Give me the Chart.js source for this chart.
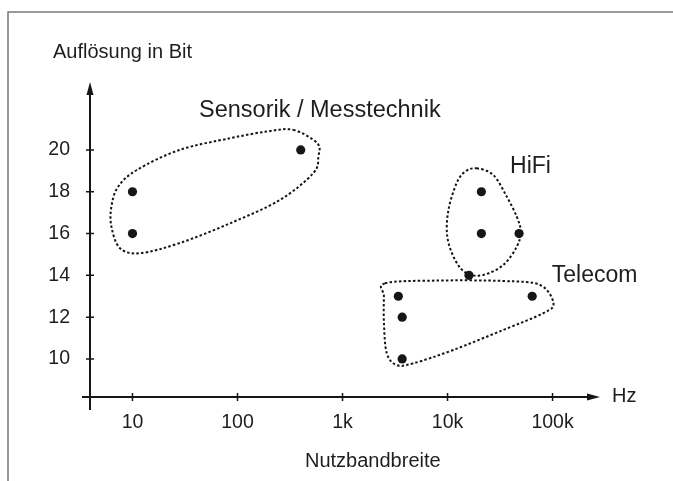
<!DOCTYPE html>
<html>
<head>
<meta charset="utf-8">
<script src="https://cdn.jsdelivr.net/npm/chart.js@4.4.0/dist/chart.umd.min.js"></script>
<style>
    html, body { margin: 0; padding: 0; background: #ffffff; }
    #wrap { width: 673px; height: 481px; }
</style>
</head>
<body>
<div id="wrap"><canvas id="bitChart" width="673" height="481"></canvas></div>
<script>
// Measured points (bandwidth in Hz, resolution in bit)
const sensorikHz = [10, 10, 400];
const sensorikBits = [18, 16, 20];
const hifiHz = [21000, 21000, 48000, 16000];
const hifiBits = [18, 16, 16, 14];
const telecomHz = [3400, 3700, 3700, 64000];
const telecomBits = [13, 12, 10, 13];

// Dotted group outlines (closed curves through these points)
const sensorikOutlineHz = [340, 575, 589, 527, 254, 85, 28, 11.8, 7.6, 6.3, 6.3, 7.3, 11, 28, 85, 190];
const sensorikOutlineBits = [20.96, 20.32, 19.68, 18.89, 17.61, 16.49, 15.54, 15.06, 15.3, 16.33, 17.29, 18.24, 19.04, 20.0, 20.56, 20.88];
const hifiOutlineHz = [18970, 27300, 36600, 45600, 49800, 45600, 34000, 21900, 15200, 11800, 9950, 10200, 12200, 14700];
const hifiOutlineBits = [19.12, 18.8, 17.77, 16.81, 16.09, 15.37, 14.5, 14.02, 14.1, 14.74, 15.85, 17.13, 18.41, 18.96];
const telecomOutlineHz = [2540, 7890, 34000, 76000, 102000, 81700, 34000, 11350, 4720, 3280, 2640, 2480, 2480];
const telecomOutlineBits = [13.62, 13.75, 13.73, 13.54, 12.67, 12.19, 11.39, 10.43, 9.79, 9.71, 10.27, 11.71, 12.98];

// Group labels and where they sit (data coordinates of the text's left baseline)
const groupLabels = ['Sensorik / Messtechnik', 'HiFi', 'Telecom'];
const groupLabelHz = [43, 39400, 98200];
const groupLabelBits = [21.58, 18.89, 13.7];

// Axis ticks
const xTicks = [10, 100, 1000, 10000, 100000];
const xTickLabels = ['10', '100', '1k', '10k', '100k'];
const yTicks = [10, 12, 14, 16, 18, 20];

const FONT = "'Liberation Sans', Arial, sans-serif";
const INK = '#161616';

function toPoints(xs, ys) {
    return xs.map((x, i) => ({ x: x, y: ys[i] }));
}

// Closed Catmull-Rom curve through pixel points
function closedCurve(ctx, pts) {
    const n = pts.length;
    ctx.beginPath();
    ctx.moveTo(pts[0].x, pts[0].y);
    for (let i = 0; i < n; i++) {
        const p0 = pts[(i - 1 + n) % n];
        const p1 = pts[i];
        const p2 = pts[(i + 1) % n];
        const p3 = pts[(i + 2) % n];
        ctx.bezierCurveTo(
            p1.x + (p2.x - p0.x) / 6, p1.y + (p2.y - p0.y) / 6,
            p2.x - (p3.x - p1.x) / 6, p2.y - (p3.y - p1.y) / 6,
            p2.x, p2.y
        );
    }
    ctx.closePath();
}

const decorPlugin = {
    id: 'decor',
    beforeDraw(chart) {
        const ctx = chart.ctx;
        // scanned figure frame (top and left edges)
        ctx.save();
        ctx.strokeStyle = '#7a7a7a';
        ctx.lineWidth = 1.5;
        ctx.beginPath();
        ctx.moveTo(673, 12);
        ctx.lineTo(8, 12);
        ctx.lineTo(8, 481);
        ctx.stroke();
        ctx.restore();
    },
    afterDatasetsDraw(chart) {
        const ctx = chart.ctx;
        const xs = chart.scales.x;
        const ys = chart.scales.y;
        const area = chart.chartArea;

        ctx.save();
        ctx.strokeStyle = INK;
        ctx.fillStyle = INK;
        ctx.lineWidth = 2;

        // y axis with arrow
        ctx.beginPath();
        ctx.moveTo(area.left, area.bottom + 13);
        ctx.lineTo(area.left, area.top + 10);
        ctx.stroke();
        ctx.beginPath();
        ctx.moveTo(area.left, area.top);
        ctx.lineTo(area.left - 3.5, area.top + 13);
        ctx.lineTo(area.left + 3.5, area.top + 13);
        ctx.closePath();
        ctx.fill();

        // x axis with arrow
        ctx.beginPath();
        ctx.moveTo(area.left - 8, area.bottom);
        ctx.lineTo(area.right - 10, area.bottom);
        ctx.stroke();
        ctx.beginPath();
        ctx.moveTo(area.right, area.bottom);
        ctx.lineTo(area.right - 13, area.bottom - 3.5);
        ctx.lineTo(area.right - 13, area.bottom + 3.5);
        ctx.closePath();
        ctx.fill();

        // tick marks crossing the axes
        ctx.lineWidth = 1.5;
        ctx.beginPath();
        xTicks.forEach(v => {
            const px = xs.getPixelForValue(v);
            ctx.moveTo(px, area.bottom - 4);
            ctx.lineTo(px, area.bottom + 4);
        });
        yTicks.forEach(v => {
            const py = ys.getPixelForValue(v);
            ctx.moveTo(area.left - 4, py);
            ctx.lineTo(area.left + 4, py);
        });
        ctx.stroke();

        // dotted group outlines
        ctx.lineWidth = 2;
        ctx.setLineDash([2.5, 2.2]);
        [
            [sensorikOutlineHz, sensorikOutlineBits],
            [hifiOutlineHz, hifiOutlineBits],
            [telecomOutlineHz, telecomOutlineBits]
        ].forEach(([hz, bits]) => {
            const pts = hz.map((h, i) => ({ x: xs.getPixelForValue(h), y: ys.getPixelForValue(bits[i]) }));
            closedCurve(ctx, pts);
            ctx.stroke();
        });
        ctx.setLineDash([]);

        // group labels
        ctx.fillStyle = '#1e1e1e';
        ctx.textAlign = 'left';
        ctx.textBaseline = 'alphabetic';
        ctx.font = '23.5px ' + FONT;
        ctx.fillText(groupLabels[0], xs.getPixelForValue(groupLabelHz[0]), ys.getPixelForValue(groupLabelBits[0]));
        ctx.font = '23px ' + FONT;
        ctx.fillText(groupLabels[1], xs.getPixelForValue(groupLabelHz[1]), ys.getPixelForValue(groupLabelBits[1]));
        ctx.fillText(groupLabels[2], xs.getPixelForValue(groupLabelHz[2]), ys.getPixelForValue(groupLabelBits[2]));

        // axis titles
        ctx.font = '20px ' + FONT;
        ctx.fillText('Auflösung in Bit', 53, 58);
        ctx.fillText('Hz', area.right + 12, area.bottom + 5);
        ctx.fillText('Nutzbandbreite', 305, 467);
        ctx.restore();
    }
};

const dotStyle = {
    backgroundColor: INK,
    borderColor: INK,
    pointRadius: 4.6,
    pointHoverRadius: 4.6,
    borderWidth: 0
};

const ctx = document.getElementById('bitChart').getContext('2d');
const bitChart = new Chart(ctx, {
    type: 'scatter',
    data: {
        datasets: [
            Object.assign({ label: groupLabels[0], data: toPoints(sensorikHz, sensorikBits) }, dotStyle),
            Object.assign({ label: groupLabels[1], data: toPoints(hifiHz, hifiBits) }, dotStyle),
            Object.assign({ label: groupLabels[2], data: toPoints(telecomHz, telecomBits) }, dotStyle)
        ]
    },
    options: {
        responsive: false,
        animation: false,
        devicePixelRatio: 1,
        layout: {
            padding: { left: 0, top: 82, right: 73, bottom: 0 }
        },
        plugins: {
            legend: { display: false },
            tooltip: { enabled: false }
        },
        scales: {
            x: {
                type: 'logarithmic',
                min: 3.94,
                max: 283000,
                grid: { display: false, drawTicks: false },
                border: { display: false },
                afterBuildTicks: scale => {
                    scale.ticks = xTicks.map(v => ({ value: v }));
                },
                afterFit: scale => {
                    scale.height = 84;
                },
                ticks: {
                    autoSkip: false,
                    maxRotation: 0,
                    padding: 14,
                    color: '#1e1e1e',
                    font: { family: FONT, size: 19.5 },
                    callback: value => {
                        const i = xTicks.indexOf(value);
                        return i >= 0 ? xTickLabels[i] : '';
                    }
                }
            },
            y: {
                type: 'linear',
                min: 8.18,
                max: 23.25,
                grid: { display: false, drawTicks: false },
                border: { display: false },
                afterBuildTicks: scale => {
                    scale.ticks = yTicks.map(v => ({ value: v }));
                },
                afterFit: scale => {
                    scale.width = 90;
                },
                ticks: {
                    autoSkip: false,
                    padding: 20,
                    color: '#1e1e1e',
                    font: { family: FONT, size: 19.5 }
                }
            }
        }
    },
    plugins: [decorPlugin]
});
</script>
</body>
</html>
